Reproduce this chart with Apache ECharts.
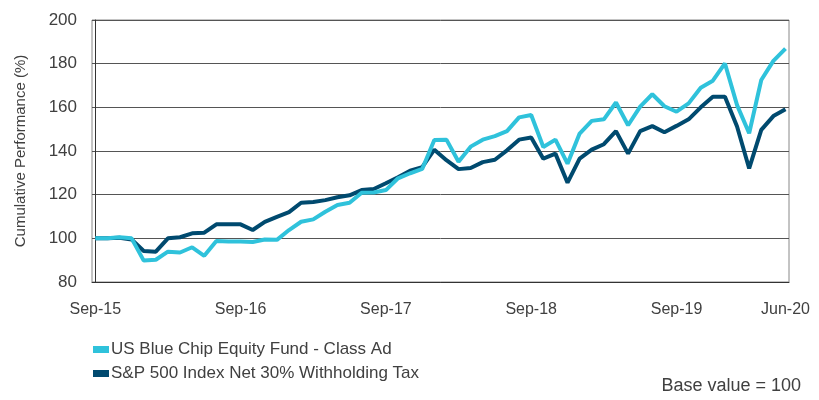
<!DOCTYPE html>
<html>
<head>
<meta charset="utf-8">
<script src="https://cdn.jsdelivr.net/npm/echarts@6/dist/echarts.min.js"></script>
<style>
  html, body { margin: 0; padding: 0; background: #fff; }
  #chart { width: 819px; height: 400px; }
</style>
</head>
<body>
<div id="chart"></div>
<script>
const months = [
	'Sep-15', 'Oct-15', 'Nov-15', 'Dec-15', 'Jan-16', 'Feb-16', 'Mar-16', 'Apr-16', 'May-16', 'Jun-16', 'Jul-16', 'Aug-16',
	'Sep-16', 'Oct-16', 'Nov-16', 'Dec-16', 'Jan-17', 'Feb-17', 'Mar-17', 'Apr-17', 'May-17', 'Jun-17', 'Jul-17', 'Aug-17',
	'Sep-17', 'Oct-17', 'Nov-17', 'Dec-17', 'Jan-18', 'Feb-18', 'Mar-18', 'Apr-18', 'May-18', 'Jun-18', 'Jul-18', 'Aug-18',
	'Sep-18', 'Oct-18', 'Nov-18', 'Dec-18', 'Jan-19', 'Feb-19', 'Mar-19', 'Apr-19', 'May-19', 'Jun-19', 'Jul-19', 'Aug-19',
	'Sep-19', 'Oct-19', 'Nov-19', 'Dec-19', 'Jan-20', 'Feb-20', 'Mar-20', 'Apr-20', 'May-20', 'Jun-20'
]
const shownLabels = ['Sep-15', 'Sep-16', 'Sep-17', 'Sep-18', 'Sep-19', 'Jun-20']

const fundName = 'US Blue Chip Equity Fund - Class Ad'
const indexName = 'S&P 500 Index Net 30% Withholding Tax'

const fund = [
	100, 100, 100.5, 100, 89.8, 90.2, 93.9, 93.5, 95.9, 92, 98.8, 98.5,
	98.6, 98.3, 99.5, 99.3, 103.8, 107.6, 108.7, 112.2, 115.3, 116.3, 120.9, 121,
	122.1, 127.5, 129.8, 131.8, 145, 145.2, 135.1, 142, 145.2, 146.8, 149.1, 155.4,
	156.5, 141.8, 145.2, 134.2, 148, 153.8, 154.5, 162.2, 151.8, 160.3, 166, 160.5,
	158, 161.8, 169, 172.2, 180.1, 161, 148.1, 172.5, 181.3, 186.9
]
const index = [
	100, 100, 100.3, 99.5, 94.2, 93.9, 100, 100.5, 102.3, 102.6, 106.4, 106.4,
	106.4, 103.8, 107.5, 109.8, 112, 116.3, 116.6, 117.5, 118.8, 119.7, 122.1, 122.6,
	125.2, 128, 131, 132.6, 140.6, 135.8, 131.7, 132.2, 134.9, 136, 140.3, 145.2,
	146.2, 136.5, 138.8, 125.5, 136.5, 140.6, 143.1, 149.1, 138.8, 149.1, 151.4, 148.6,
	151.5, 154.5, 160, 164.9, 164.9, 151.2, 132, 149.7, 156, 159.1
]

const font = 'Liberation Sans'
const textColor = '#404040'
const fundColor = '#2fc2db'
const indexColor = '#004a6f'

// x positions are month numbers so the plot can sit a little inside the axis box
const labelTicks = shownLabels.map(m => months.indexOf(m))
const pairs = arr => arr.map((v, i) => [i, v])

let myChart = echarts.init(document.getElementById('chart'))
let option = {
	animation: false,
	textStyle: { fontFamily: font },
	grid: {
		left: 92,
		right: 30,
		top: 20,
		bottom: 118,
		show: true,
		borderColor: '#888',
		borderWidth: 1
	},
	title: {
		text: 'Base value = 100',
		right: 13,
		bottom: 0,
		textStyle: { fontFamily: font, fontSize: 18, fontWeight: 'normal', color: textColor }
	},
	legend: {
		orient: 'vertical',
		left: 88,
		top: 336,
		itemGap: 7,
		itemWidth: 16,
		itemHeight: 7,
		icon: 'rect',
		data: [fundName, indexName],
		textStyle: { fontFamily: font, fontSize: 17, color: textColor, padding: [0, 0, 0, -3] }
	},
	xAxis: {
		type: 'value',
		min: -0.27,
		max: 57.29,
		axisLine: { onZero: false, lineStyle: { color: '#333', width: 1 } },
		axisTick: { show: false },
		axisLabel: {
			customValues: labelTicks,
			formatter: function (v) { return months[Math.round(v)] },
			margin: 20,
			fontSize: 16,
			color: textColor
		},
		splitLine: { show: false }
	},
	yAxis: {
		type: 'value',
		min: 80,
		max: 200,
		interval: 20,
		name: 'Cumulative Performance (%)',
		nameLocation: 'middle',
		nameGap: 64,
		nameTextStyle: { fontSize: 15, color: textColor },
		axisLine: { show: true, lineStyle: { color: '#333', width: 1 } },
		axisTick: { show: false },
		axisLabel: { margin: 15, fontSize: 17, color: textColor },
		splitLine: { lineStyle: { color: '#555', width: 1 } }
	},
	series: [
		{
			name: indexName,
			type: 'line',
			data: pairs(index),
			symbol: 'none',
			color: indexColor,
			lineStyle: { width: 4, color: indexColor }
		},
		{
			name: fundName,
			type: 'line',
			data: pairs(fund),
			symbol: 'none',
			color: fundColor,
			lineStyle: { width: 4, color: fundColor }
		}
	]
}
myChart.setOption(option)
</script>
</body>
</html>
